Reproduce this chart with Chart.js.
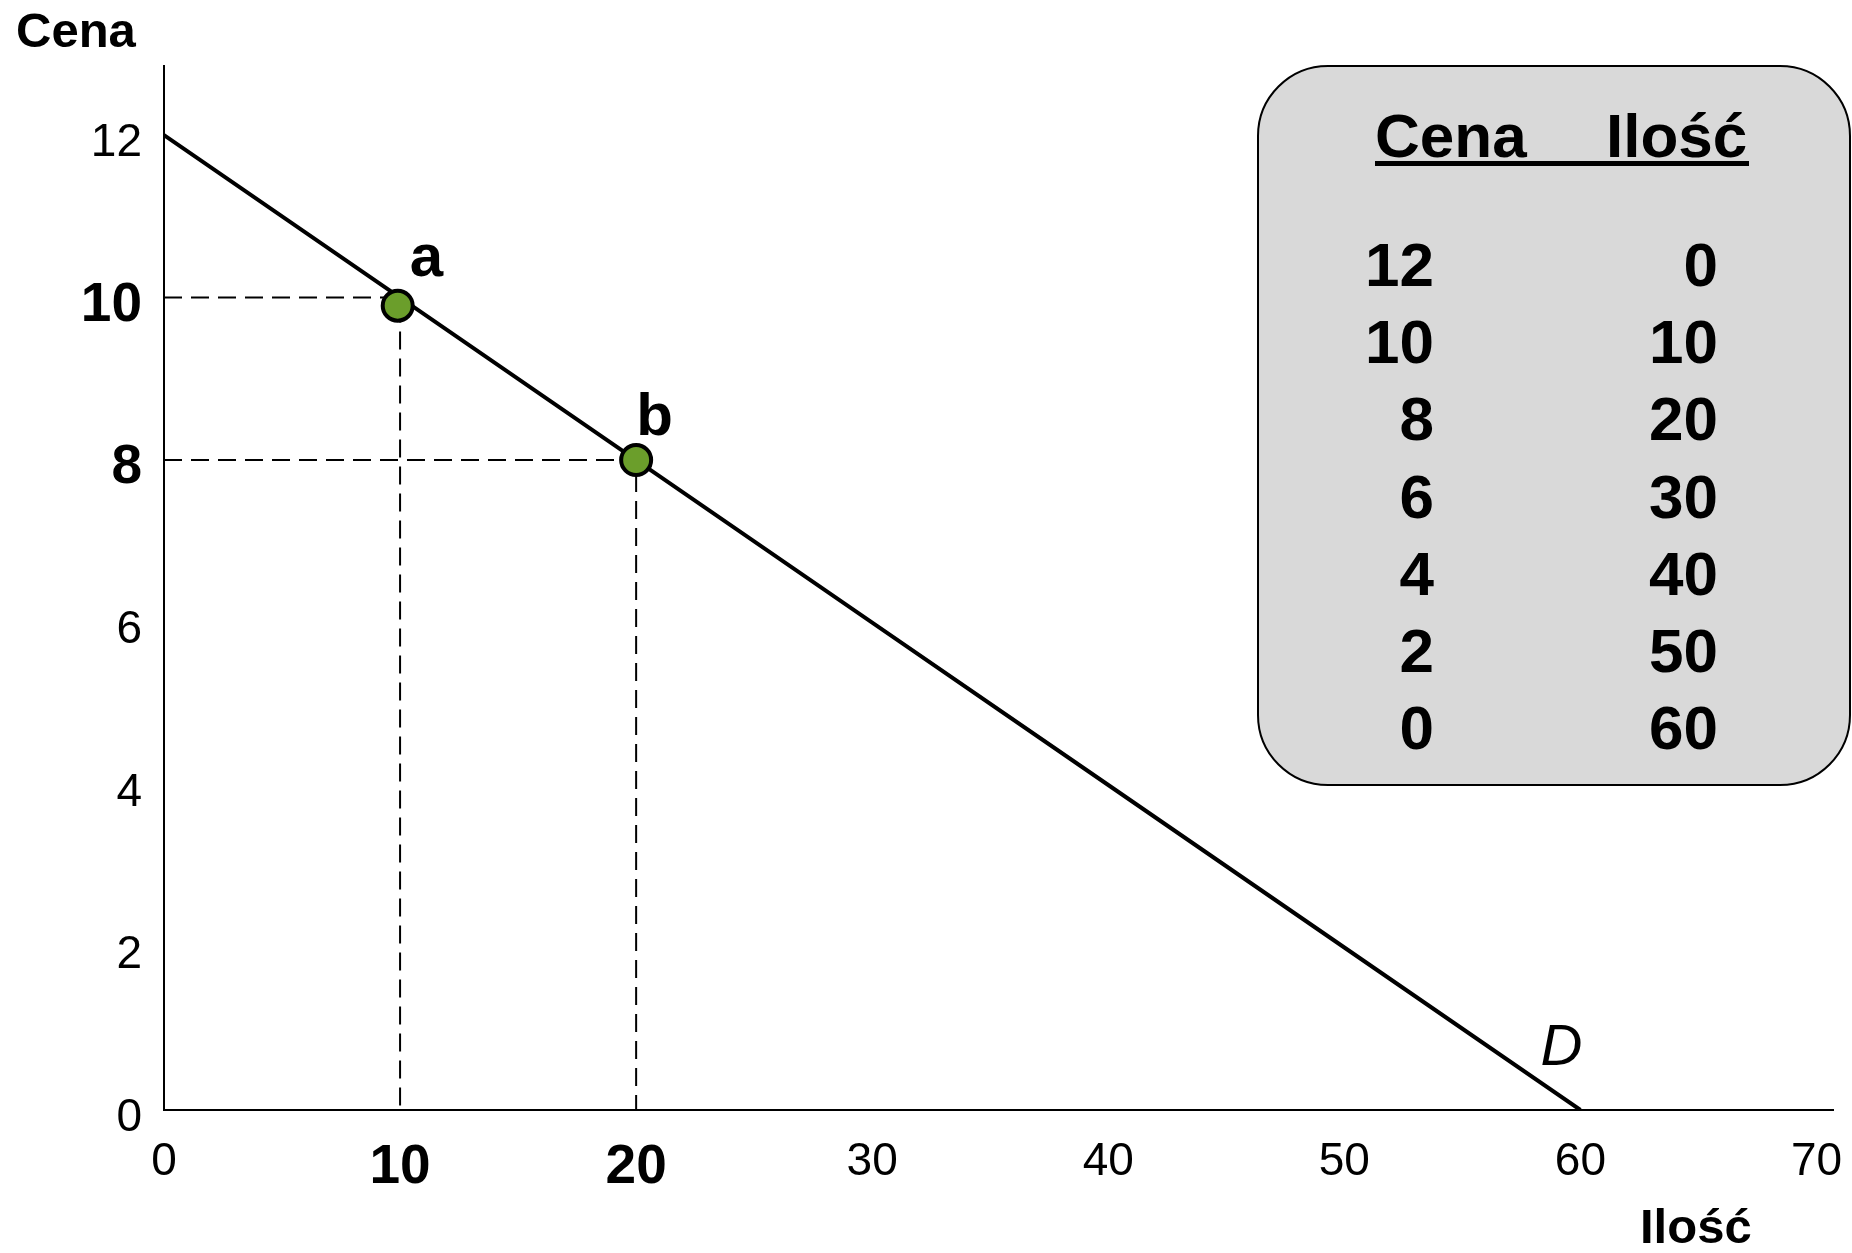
<!DOCTYPE html>
<html>
<head>
<meta charset="utf-8">
<script src="https://cdn.jsdelivr.net/npm/chart.js@4/dist/chart.umd.min.js"></script>
<style>
  html, body { margin: 0; padding: 0; background: #ffffff; }
  #wrap { width: 1852px; height: 1253px; position: relative; }
  canvas { display: block; }
</style>
</head>
<body>
<div id="wrap"><canvas id="c" width="1852" height="1253"></canvas></div>
<script>
// ---- data ----
const priceLevels = [12, 10, 8, 6, 4, 2, 0];          // Cena
const quantities  = [0, 10, 20, 30, 40, 50, 60];      // Ilość
const pointNames  = ['a', 'b'];
const pointQty    = [9.9, 20];
const pointPrice  = [9.9, 8.0];
const guideQty    = [10, 20];
const guidePrice  = [10, 8];
const xTickValues = [0, 10, 20, 30, 40, 50, 60, 70];
const yTickValues = [0, 2, 4, 6, 8, 10, 12];
const boldXTicks  = [10, 20];
const boldYTicks  = [8, 10];
const curveName   = 'D';
const yAxisTitle  = 'Cena';
const xAxisTitle  = 'Ilość';
const tableHeaders = ['Cena', 'Ilość'];

const FONT = '"Liberation Sans", Arial, Helvetica, sans-serif';

const demandData = quantities.map((q, i) => ({ x: q, y: priceLevels[i] }));
const guideSets = guideQty.map((q, i) => ({
  type: 'line',
  data: [{ x: 0, y: guidePrice[i] }, { x: q, y: guidePrice[i] }, { x: q, y: 0 }],
  borderColor: '#000000',
  borderWidth: 2,
  borderDash: [18, 9],
  pointRadius: 0,
  showLine: true,
  fill: false,
  order: 3
}));

const overlay = {
  id: 'overlay',
  afterDraw(chart) {
    const ctx = chart.ctx;
    const xs = chart.scales.x, ys = chart.scales.y;
    ctx.save();
    ctx.fillStyle = '#000';
    ctx.textBaseline = 'alphabetic';

    // axis titles
    ctx.font = 'bold 49px ' + FONT;
    ctx.textAlign = 'left';
    ctx.fillText(yAxisTitle, 16, 47);
    ctx.fillText(xAxisTitle, 1640, 1243);

    // point labels
    const pm = chart.getDatasetMeta(chart.data.datasets.length - 1);
    ctx.font = 'bold 60px ' + FONT;
    const offs = [[12, -30], [0, -25]];
    pm.data.forEach((el, i) => {
      ctx.fillText(pointNames[i], el.x + offs[i][0], el.y + offs[i][1]);
    });

    // curve label
    ctx.font = 'italic 58px ' + FONT;
    const endQ = quantities[quantities.length - 1];
    const endP = priceLevels[priceLevels.length - 1];
    ctx.fillText(curveName, xs.getPixelForValue(endQ) - 40, ys.getPixelForValue(endP) - 45);

    // table box
    const bx = 1258, by = 66, bw = 592, bh = 719, r = 70;
    ctx.beginPath();
    ctx.roundRect(bx, by, bw, bh, r);
    ctx.fillStyle = '#d9d9d9';
    ctx.fill();
    ctx.lineWidth = 2;
    ctx.strokeStyle = '#000';
    ctx.stroke();

    ctx.fillStyle = '#000';
    ctx.font = 'bold 62px ' + FONT;
    ctx.textAlign = 'left';
    ctx.fillText(tableHeaders[0], 1375, 157);
    ctx.fillText(tableHeaders[1], 1606, 157);
    ctx.fillRect(1375, 161, 374, 5);

    ctx.textAlign = 'right';
    priceLevels.forEach((p, i) => {
      const yb = 286 + i * 77.2;
      ctx.fillText(String(p), 1434, yb);
      ctx.fillText(String(quantities[i]), 1718, yb);
    });
    ctx.restore();
  }
};

new Chart(document.getElementById('c'), {
  type: 'scatter',
  data: {
    datasets: [
      ...guideSets,
      {
        type: 'line',
        data: demandData,
        borderColor: '#000000',
        borderWidth: 4,
        pointRadius: 0,
        showLine: true,
        fill: false,
        order: 2
      },
      {
        type: 'scatter',
        data: pointQty.map((q, i) => ({ x: q, y: pointPrice[i] })),
        backgroundColor: '#6b9e2b',
        borderColor: '#000000',
        borderWidth: 4,
        pointRadius: 15,
        order: 1
      }
    ]
  },
  options: {
    responsive: false,
    animation: false,
    events: [],
    layout: { padding: { top: 66, right: 10, left: 0, bottom: 0 } },
    plugins: { legend: { display: false }, tooltip: { enabled: false } },
    scales: {
      x: {
        type: 'linear',
        min: 0,
        max: 70.7,
        grid: { display: false, drawTicks: false },
        border: { display: true, color: '#000', width: 2 },
        afterBuildTicks: (s) => { s.ticks = xTickValues.map(v => ({ value: v })); },
        afterFit: (s) => { s.height = 143; s.paddingRight = 0; s.paddingLeft = 0; },
        ticks: {
          color: '#000',
          padding: 25,
          maxRotation: 0,
          autoSkip: false,
          font: (c) => boldXTicks.includes(c.tick && c.tick.value)
            ? { family: FONT, size: 55, weight: 'bold' }
            : { family: FONT, size: 46, weight: 'normal' }
        }
      },
      y: {
        type: 'linear',
        min: 0,
        max: 12.85,
        grid: { display: false, drawTicks: false },
        border: { display: true, color: '#000', width: 2 },
        afterBuildTicks: (s) => { s.ticks = yTickValues.map(v => ({ value: v })); },
        afterFit: (s) => { s.width = 164; s.paddingTop = 0; s.paddingBottom = 0; },
        ticks: {
          color: '#000',
          padding: 22,
          labelOffset: 8,
          autoSkip: false,
          font: (c) => boldYTicks.includes(c.tick && c.tick.value)
            ? { family: FONT, size: 55, weight: 'bold' }
            : { family: FONT, size: 46, weight: 'normal' }
        }
      }
    }
  },
  plugins: [overlay]
});
</script>
</body>
</html>
